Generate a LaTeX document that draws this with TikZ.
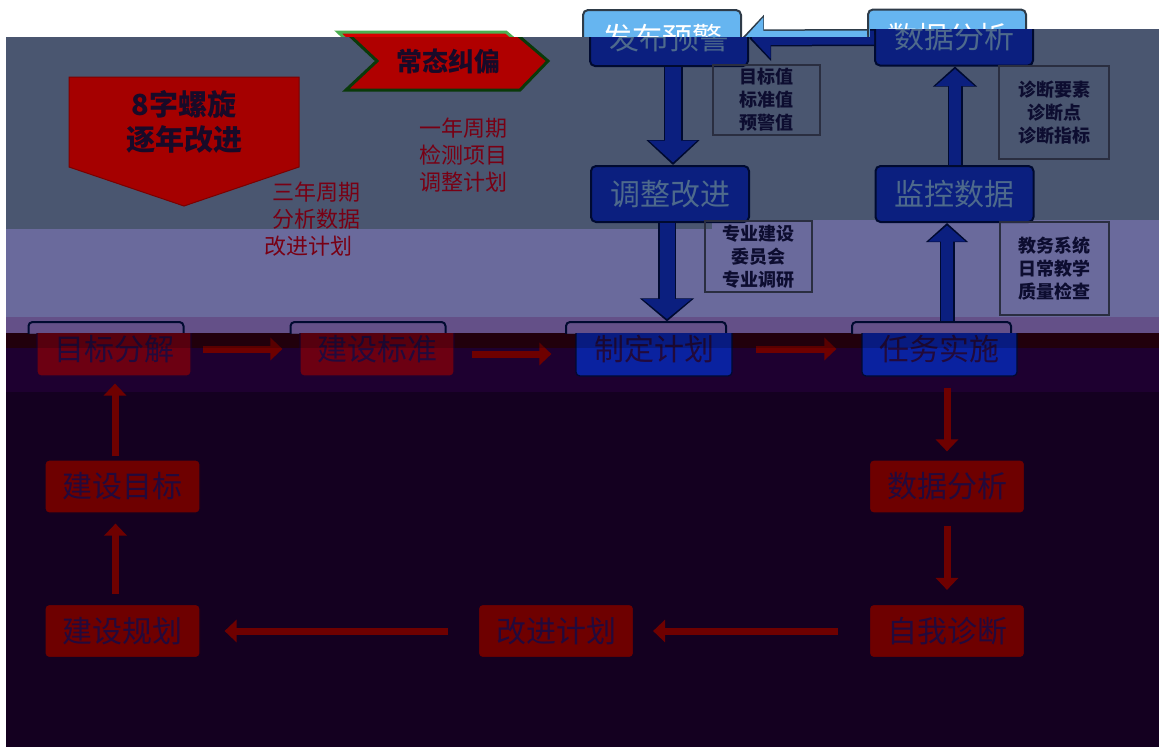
\documentclass[tikz,border=0pt]{standalone}
\usepackage{fontspec}
\setmainfont{Noto Sans CJK SC}
\usetikzlibrary{arrows.meta,calc}
\definecolor{slate}{HTML}{4A5670}
\definecolor{lav}{HTML}{6A6A9C}
\definecolor{purp}{HTML}{645088}
\definecolor{maroonband}{HTML}{2A0010}
\definecolor{bandE}{HTML}{1E0030}
\definecolor{bandF}{HTML}{140020}
\definecolor{dkblue}{HTML}{0B1F7F}
\definecolor{dkborder}{HTML}{000A30}
\definecolor{boxtext}{HTML}{4E6A8C}
\definecolor{ltblue}{HTML}{66B5F0}
\definecolor{ltborder}{HTML}{2E3B48}
\definecolor{notetext}{HTML}{0D0D30}
\definecolor{noteborder}{HTML}{2A2E40}
\definecolor{redfill}{HTML}{6E0000}
\definecolor{redtext}{HTML}{220A3C}
\definecolor{rowred}{HTML}{6C0012}
\definecolor{rowblue}{HTML}{0A22A0}
\definecolor{arrowred}{HTML}{6E0000}
\definecolor{labelred}{HTML}{780014}
\definecolor{pentred}{HTML}{A50000}
\definecolor{pentborder}{HTML}{7A0000}
\definecolor{chevred}{HTML}{B00000}
\definecolor{chevgreen}{HTML}{0A3A0A}
\definecolor{chevlight}{HTML}{D80000}
\definecolor{chevlightborder}{HTML}{4CAF50}
\definecolor{darktext}{HTML}{180A28}
\definecolor{crimsonpatch}{HTML}{C0104A}
\tikzset{
  topbox/.style={rounded corners=5pt, minimum width=158pt, minimum height=56pt, line width=2pt, inner sep=0pt, font=\fontsize{30pt}{32pt}\selectfont},
  darkbox/.style={topbox, fill=dkblue, draw=dkborder, text=boxtext},
  lightbox/.style={topbox, fill=ltblue, draw=ltborder, text=white},
  note/.style={draw=noteborder, line width=1.3pt, text=notetext, align=center, inner sep=0pt, font=\bfseries\fontsize{18pt}{23pt}\selectfont},
  rowbox/.style={rounded corners=4pt, minimum width=155pt, minimum height=54pt, inner sep=0pt, line width=1.2pt, font=\fontsize{30pt}{32pt}\selectfont},
  redrow/.style={rowbox, fill=rowred, draw=bandE, text=redtext},
  bluerow/.style={rowbox, fill=rowblue, draw=dkborder, text=redtext},
  ghostrow/.style={rowbox, fill=purp, draw=dkborder, line width=2pt, text=dkborder!75!purp},
  lowbox/.style={rowbox, minimum height=53pt, fill=redfill, draw=bandF, text=redtext},
  redarrow/.style={draw=arrowred, line width=7pt, -{Triangle[width=22pt, length=12pt]}},
  redlabel/.style={text=labelred, align=left, inner sep=0pt, font=\fontsize{22pt}{27pt}\selectfont},
}
\newcommand\blockarrow[7]{%
  \pgfmathsetmacro\baOutW{#5+3}%
  \pgfmathsetmacro\baOutH{#6+5}%
  \pgfmathsetmacro\baOutL{#7+3}%
  \draw[#4, line width=\baOutW pt, -{Triangle[width=\baOutH pt, length=\baOutL pt]}] #1 -- #2;
  \draw[#3, line width=#5pt, -{Triangle[width=#6pt, length=#7pt]}, shorten >=2.5pt] #1 -- #2;
}
\begin{document}
\begin{tikzpicture}[x=1pt,y=-1pt]
\useasboundingbox (0,0) rectangle (1159,747);
\fill[white] (0,0) rectangle (1159,747);

% ---- light layer (visible only in the white top strip)
\filldraw[fill=chevlight, draw=chevlightborder, line width=3pt] (338,32) -- (506,32) -- (540,61) -- (512,90) -- (338,90) -- (369,61) -- cycle;
\node[lightbox] (fbyjl) at (662,38) {发布预警};
\node[lightbox] (sjfxl) at (947,37.5) {数据分析};
\blockarrow{(sjfxl.west)}{(fbyjl.east)}{ltblue}{ltborder}{14}{40}{19}

\begin{scope}
\clip (6,37) -- (870,37) -- (870,29) -- (1159,29) -- (1159,747) -- (6,747) -- cycle;
% ---- bands
\fill[slate] (6,37) -- (870,37) -- (870,29) -- (1159,29) -- (1159,220) -- (712,220) -- (712,229) -- (6,229) -- cycle;
\fill[lav] (6,229) -- (712,229) -- (712,220) -- (1159,220) -- (1159,317) -- (6,317) -- cycle;
\fill[purp] (6,317) rectangle (1159,333);
\fill[maroonband] (6,333) rectangle (1159,348);
\fill[bandE] (6,348) rectangle (1159,392);
\fill[bandF] (6,392) rectangle (1159,747);

% ---- pentagon and chevron
\filldraw[fill=pentred, draw=pentborder, line width=1pt] (69,77) -- (299,77) -- (299,167) -- (184,206) -- (69,167) -- cycle;
\node[text=darktext, align=center, font=\bfseries\fontsize{29pt}{35pt}\selectfont] (spiral) at (184,122) {8字螺旋\\逐年改进};
\filldraw[fill=chevred, draw=chevgreen, line width=3pt] (346,32) -- (514,32) -- (548,61) -- (520,90) -- (346,90) -- (377,61) -- cycle;
\node[text=darktext, font=\bfseries\fontsize{26pt}{28pt}\selectfont] (chev) at (448,61) {常态纠偏};

% ---- red labels
\node[redlabel, anchor=west] (yearone) at (419,155.5) {一年周期\\检测项目\\调整计划};
\node[redlabel, anchor=west] (yearthree) at (264,219.5) {\hspace*{8pt}三年周期\\\hspace*{8pt}分析数据\\改进计划};

% ---- top blue boxes
\node[darkbox] (fbyj) at (669,38) {发布预警};
\node[darkbox] (sjfx) at (954,37.5) {数据分析};
\node[darkbox] (tzgj) at (670,194) {调整改进};
\node[darkbox] (jksj) at (954.5,194) {监控数据};

% ---- notes
\node[note, minimum width=107pt, minimum height=70pt] (n1) at (766.5,100) {目标值\\标准值\\预警值};
\node[note, minimum width=110pt, minimum height=93pt] (n2) at (1054,112.5) {诊断要素\\诊断点\\诊断指标};
\node[note, minimum width=107pt, minimum height=71pt] (n3) at (758.5,256.5) {专业建设\\委员会\\专业调研};
\node[note, minimum width=109pt, minimum height=93pt] (n4) at (1054.5,268.5) {教务系统\\日常教学\\质量检查};

% ---- ghost row (band C only)
\begin{scope}
\clip (6,317) rectangle (1159,333);
\node[ghostrow] (mbfjg) at (106,349) {目标分解};
\node[ghostrow] (jsbzg) at (368,349) {建设标准};
\node[ghostrow, minimum width=160pt] (zdjhg) at (646,349) {制定计划};
\node[ghostrow, minimum width=159pt] (rwssg) at (931.5,349) {任务实施};
\end{scope}

% ---- real row
\begin{scope}
\clip (6,333) rectangle (1159,747);
\node[redrow, minimum width=154pt] (mbfj) at (114,349) {目标分解};
\node[redrow, minimum width=154pt, path picture={\fill[crimsonpatch] (350,333) rectangle (455,343);}] (jsbz) at (377,349) {建设标准};
\node[bluerow, minimum width=156pt] (zdjh) at (654,349) {制定计划};
\node[bluerow, minimum width=155pt] (rwss) at (939.5,349) {任务实施};
\end{scope}

% ---- blue block arrows
\blockarrow{(sjfx.west)}{(fbyj.east)}{dkblue}{dkborder}{14}{40}{19}
\coordinate (a1) at ($(fbyj.south)+(4,0)$);
\blockarrow{(a1)}{(a1 |- tzgj.north)}{dkblue}{dkborder}{16}{47}{22}
\coordinate (a2) at ($(tzgj.south)+(-3,0)$);
\blockarrow{(a2)}{(a2 |- zdjh.north)}{dkblue}{dkborder}{15}{48}{20}
\coordinate (a3) at ($(jksj.south)+(-7.5,0)$);
\blockarrow{(a3 |- rwss.north)}{(a3)}{dkblue}{dkborder}{12}{36}{16}
\coordinate (a4) at ($(jksj.north)+(0.5,0)$);
\blockarrow{(a4)}{(a4 |- sjfx.south)}{dkblue}{dkborder}{12}{38}{17}

% ---- row red arrows
\draw[redarrow, shorten <=11pt, shorten >=17pt] (mbfj.east) -- (jsbz.west);
\draw[redarrow, shorten <=17pt, shorten >=24pt] ($(jsbz.east)+(0,5)$) -- ($(zdjh.west)+(0,5)$);
\draw[redarrow, shorten <=23pt, shorten >=25pt] (zdjh.east) -- (rwss.west);

% ---- maroon strip overlay
\fill[black, opacity=0.2] (6,333) rectangle (1159,348);

% ---- bottom loop
\node[lowbox] (jsmb) at (122.5,486.5) {建设目标};
\node[lowbox] (jsgh) at (122.5,631) {建设规划};
\node[lowbox] (gjjh) at (556,631) {改进计划};
\node[lowbox] (zwzd) at (947,631) {自我诊断};
\node[lowbox] (sjfxb) at (947,486.5) {数据分析};

\draw[redarrow, shorten <=11pt, shorten >=8pt] (sjfxb.north |- rwss.south) -- (sjfxb.north);
\draw[redarrow, shorten <=12pt, shorten >=14pt] (sjfxb.south) -- (zwzd.north);
\draw[redarrow, shorten <=31pt, shorten >=19pt] (zwzd.west) -- (gjjh.east);
\draw[redarrow, shorten <=30pt, shorten >=24pt] (gjjh.west) -- (jsgh.east);
\coordinate (b1) at ($(jsgh.north)+(-7,0)$);
\draw[redarrow, shorten <=10pt, shorten >=10pt] (b1) -- (b1 |- jsmb.south);
\coordinate (b2) at ($(jsmb.north)+(-7.5,0)$);
\draw[redarrow, shorten <=3pt, shorten >=7pt] (b2) -- (b2 |- mbfj.south);
\end{scope}
\end{tikzpicture}
\end{document}
